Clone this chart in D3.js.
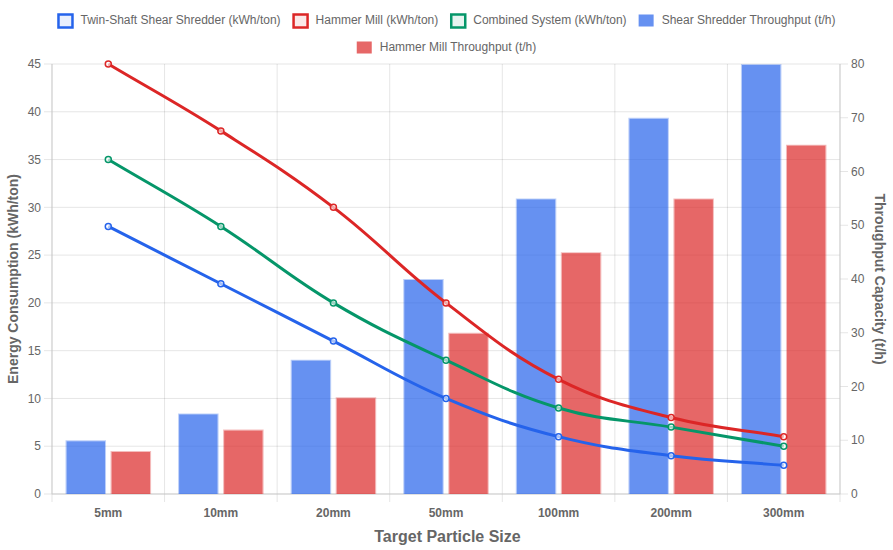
<!DOCTYPE html>
<html>
<head>
<meta charset="utf-8">
<script src="https://cdn.jsdelivr.net/npm/d3@7/dist/d3.min.js"></script>
<style>
  body { margin: 0; background: #fff; }
  svg { display: block; font-family: "Liberation Sans", Arial, Helvetica, sans-serif; }
  .tick-label { fill: #666; font-size: 12px; }
  .axis-title { fill: #666; font-weight: bold; }
  .legend-text { fill: #666; font-size: 12px; }
</style>
</head>
<body>
<div id="chart"></div>
<script>
  // data
  const categories = ['5mm', '10mm', '20mm', '50mm', '100mm', '200mm', '300mm'];
  const shearEnergy = [28, 22, 16, 10, 6, 4, 3];
  const hammerEnergy = [45, 38, 30, 20, 12, 8, 6];
  const combinedEnergy = [35, 28, 20, 14, 9, 7, 5];
  const shearThroughput = [10, 15, 25, 40, 55, 70, 80];
  const hammerThroughput = [8, 12, 18, 30, 45, 55, 65];
  const leftTicks = [0, 5, 10, 15, 20, 25, 30, 35, 40, 45];
  const rightTicks = [0, 10, 20, 30, 40, 50, 60, 70, 80];

  const lineSeries = [
    { name: 'Twin-Shaft Shear Shredder (kWh/ton)', values: shearEnergy, color: '#2563eb', fill: 'rgba(37,99,235,0.1)' },
    { name: 'Hammer Mill (kWh/ton)', values: hammerEnergy, color: '#dc2626', fill: 'rgba(220,38,38,0.1)' },
    { name: 'Combined System (kWh/ton)', values: combinedEnergy, color: '#059669', fill: 'rgba(5,150,105,0.1)' }
  ];
  const barSeries = [
    { name: 'Shear Shredder Throughput (t/h)', values: shearThroughput, fill: 'rgba(37,99,235,0.7)', border: 'rgba(37,99,235,0.3)' },
    { name: 'Hammer Mill Throughput (t/h)', values: hammerThroughput, fill: 'rgba(220,38,38,0.7)', border: 'rgba(220,38,38,0.3)' }
  ];

  const W = 893, H = 550;
  const area = { left: 52, right: 840, top: 64, bottom: 494 };

  const svg = d3.select('#chart').append('svg')
    .attr('width', W)
    .attr('height', H);

  const x = d3.scaleBand()
    .domain(categories)
    .range([area.left, area.right]);
  const yLeft = d3.scaleLinear().domain([0, 45]).range([area.bottom, area.top]);
  const yRight = d3.scaleLinear().domain([0, 80]).range([area.bottom, area.top]);

  const gridColor = 'rgba(0,0,0,0.1)';

  // vertical grid (category boundaries), with tick marks below axis
  const grid = svg.append('g');
  categories.concat([null]).forEach((c, i) => {
    const gx = area.left + i * x.bandwidth();
    grid.append('line')
      .attr('x1', gx).attr('x2', gx)
      .attr('y1', area.top).attr('y2', area.bottom + 8)
      .attr('stroke', gridColor);
  });

  // horizontal grid for left axis
  leftTicks.forEach(t => {
    grid.append('line')
      .attr('x1', area.left - 8).attr('x2', area.right)
      .attr('y1', yLeft(t)).attr('y2', yLeft(t))
      .attr('stroke', gridColor);
    svg.append('text')
      .attr('class', 'tick-label')
      .attr('x', area.left - 11)
      .attr('y', yLeft(t))
      .attr('dy', '0.35em')
      .attr('text-anchor', 'end')
      .text(t);
  });

  // right axis ticks
  rightTicks.forEach(t => {
    grid.append('line')
      .attr('x1', area.right).attr('x2', area.right + 8)
      .attr('y1', yRight(t)).attr('y2', yRight(t))
      .attr('stroke', gridColor);
    svg.append('text')
      .attr('class', 'tick-label')
      .attr('x', area.right + 11)
      .attr('y', yRight(t))
      .attr('dy', '0.35em')
      .text(t);
  });

  // axis lines
  svg.append('line')
    .attr('x1', area.left).attr('x2', area.left)
    .attr('y1', area.top).attr('y2', area.bottom)
    .attr('stroke', '#cfcfcf');
  svg.append('line')
    .attr('x1', area.right).attr('x2', area.right)
    .attr('y1', area.top).attr('y2', area.bottom)
    .attr('stroke', '#cfcfcf');
  svg.append('line')
    .attr('x1', area.left).attr('x2', area.right)
    .attr('y1', area.bottom).attr('y2', area.bottom)
    .attr('stroke', '#cfcfcf');

  // x tick labels
  categories.forEach(c => {
    svg.append('text')
      .attr('class', 'tick-label')
      .attr('x', x(c) + x.bandwidth() / 2)
      .attr('y', 513)
      .attr('dy', '0.35em')
      .attr('text-anchor', 'middle')
      .style('font-weight', 'bold')
      .text(c);
  });

  // axis titles
  svg.append('text')
    .attr('class', 'axis-title')
    .attr('x', W / 2 + 1)
    .attr('y', 536)
    .attr('dy', '0.35em')
    .attr('text-anchor', 'middle')
    .style('font-size', '16px')
    .text('Target Particle Size');

  svg.append('text')
    .attr('class', 'axis-title')
    .attr('transform', `translate(13, ${(area.top + area.bottom) / 2}) rotate(-90)`)
    .attr('dy', '0.35em')
    .attr('text-anchor', 'middle')
    .style('font-size', '14px')
    .text('Energy Consumption (kWh/ton)');

  svg.append('text')
    .attr('class', 'axis-title')
    .attr('transform', `translate(880, ${(area.top + area.bottom) / 2}) rotate(90)`)
    .attr('dy', '0.35em')
    .attr('text-anchor', 'middle')
    .style('font-size', '14px')
    .text('Throughput Capacity (t/h)');

  // grouped bars: categoryPercentage 0.8, barPercentage 0.9
  const groupWidth = x.bandwidth() * 0.8;
  const slot = groupWidth / barSeries.length;
  const barWidth = slot * 0.9;
  const bars = svg.append('g');
  barSeries.forEach((s, si) => {
    s.values.forEach((v, i) => {
      const bx = x(categories[i]) + (x.bandwidth() - groupWidth) / 2 + si * slot + (slot - barWidth) / 2;
      const by = yRight(v);
      const bh = yRight(0) - by;
      // border ring (outer minus inner) so the two alphas do not stack
      bars.append('path')
        .attr('d', `M${bx},${by}h${barWidth}v${bh}h${-barWidth}Z` +
          `M${bx + 1},${by + 1}v${bh - 1}h${barWidth - 2}v${-(bh - 1)}Z`)
        .attr('fill', s.border)
        .attr('fill-rule', 'evenodd');
      bars.append('rect')
        .attr('x', bx + 1).attr('y', by + 1)
        .attr('width', barWidth - 2).attr('height', bh - 1)
        .attr('fill', s.fill);
    });
  });

  // chart.js style spline (tension 0.4)
  function splinePath(pts, t) {
    const cps = pts.map((p, i) => {
      const prev = pts[i - 1] || p;
      const next = pts[i + 1] || p;
      const d01 = Math.hypot(p.x - prev.x, p.y - prev.y);
      const d12 = Math.hypot(next.x - p.x, next.y - p.y);
      let s01 = d01 / (d01 + d12), s12 = d12 / (d01 + d12);
      if (isNaN(s01)) s01 = 0;
      if (isNaN(s12)) s12 = 0;
      const fa = t * s01, fb = t * s12;
      const cap = v => Math.max(area.top, Math.min(area.bottom, v));
      return {
        prev: { x: p.x - fa * (next.x - prev.x), y: cap(p.y - fa * (next.y - prev.y)) },
        next: { x: p.x + fb * (next.x - prev.x), y: cap(p.y + fb * (next.y - prev.y)) }
      };
    });
    const path = d3.path();
    path.moveTo(pts[0].x, pts[0].y);
    for (let i = 1; i < pts.length; i++) {
      path.bezierCurveTo(cps[i - 1].next.x, cps[i - 1].next.y, cps[i].prev.x, cps[i].prev.y, pts[i].x, pts[i].y);
    }
    return path.toString();
  }

  // lines drawn last dataset first so the first one ends on top
  const lines = svg.append('g');
  lineSeries.slice().reverse().forEach(s => {
    const pts = s.values.map((v, i) => ({ x: x(categories[i]) + x.bandwidth() / 2, y: yLeft(v) }));
    lines.append('path')
      .attr('d', splinePath(pts, 0.4))
      .attr('fill', 'none')
      .attr('stroke', s.color)
      .attr('stroke-width', 3);
    pts.forEach(p => {
      lines.append('circle')
        .attr('cx', p.x).attr('cy', p.y)
        .attr('r', 3)
        .attr('fill', 'rgba(255,255,255,0.6)')
        .attr('stroke', s.color)
        .attr('stroke-width', 1.5);
    });
  });

  // legend
  const items = lineSeries.map(s => ({ name: s.name, type: 'line', color: s.color, fill: s.fill }))
    .concat(barSeries.map(s => ({ name: s.name, type: 'bar', fill: s.fill })));
  const legend = svg.append('g');
  const boxW = 16, boxH = 12, gap = 7, itemPad = 12, maxRow = 860;
  const measured = items.map(it => {
    const t = legend.append('text').attr('class', 'legend-text').text(it.name);
    const w = t.node().getComputedTextLength();
    t.remove();
    return Object.assign({ w: boxW + gap + w }, it);
  });
  const rows = [[]];
  let rowW = 0;
  measured.forEach(m => {
    if (rowW + m.w > maxRow && rows[rows.length - 1].length) { rows.push([]); rowW = 0; }
    rows[rows.length - 1].push(m);
    rowW += m.w + itemPad;
  });
  const rowY = [21, 48];
  rows.forEach((row, ri) => {
    const total = d3.sum(row, m => m.w) + itemPad * (row.length - 1);
    let lx = (W - total) / 2;
    row.forEach(m => {
      const cy = rowY[ri];
      if (m.type === 'line') {
        legend.append('rect')
          .attr('x', lx + 1).attr('y', cy - boxH / 2 - 0.5)
          .attr('width', boxW - 2).attr('height', boxH + 1)
          .attr('fill', m.fill)
          .attr('stroke', m.color)
          .attr('stroke-width', 2.5);
      } else {
        legend.append('rect')
          .attr('x', lx).attr('y', cy - boxH / 2 - 0.5)
          .attr('width', boxW - 1).attr('height', boxH)
          .attr('fill', m.fill);
      }
      legend.append('text')
        .attr('class', 'legend-text')
        .attr('x', lx + boxW + gap)
        .attr('y', cy - 1)
        .attr('dy', '0.35em')
        .text(m.name);
      lx += m.w + itemPad;
    });
  });
</script>
</body>
</html>
